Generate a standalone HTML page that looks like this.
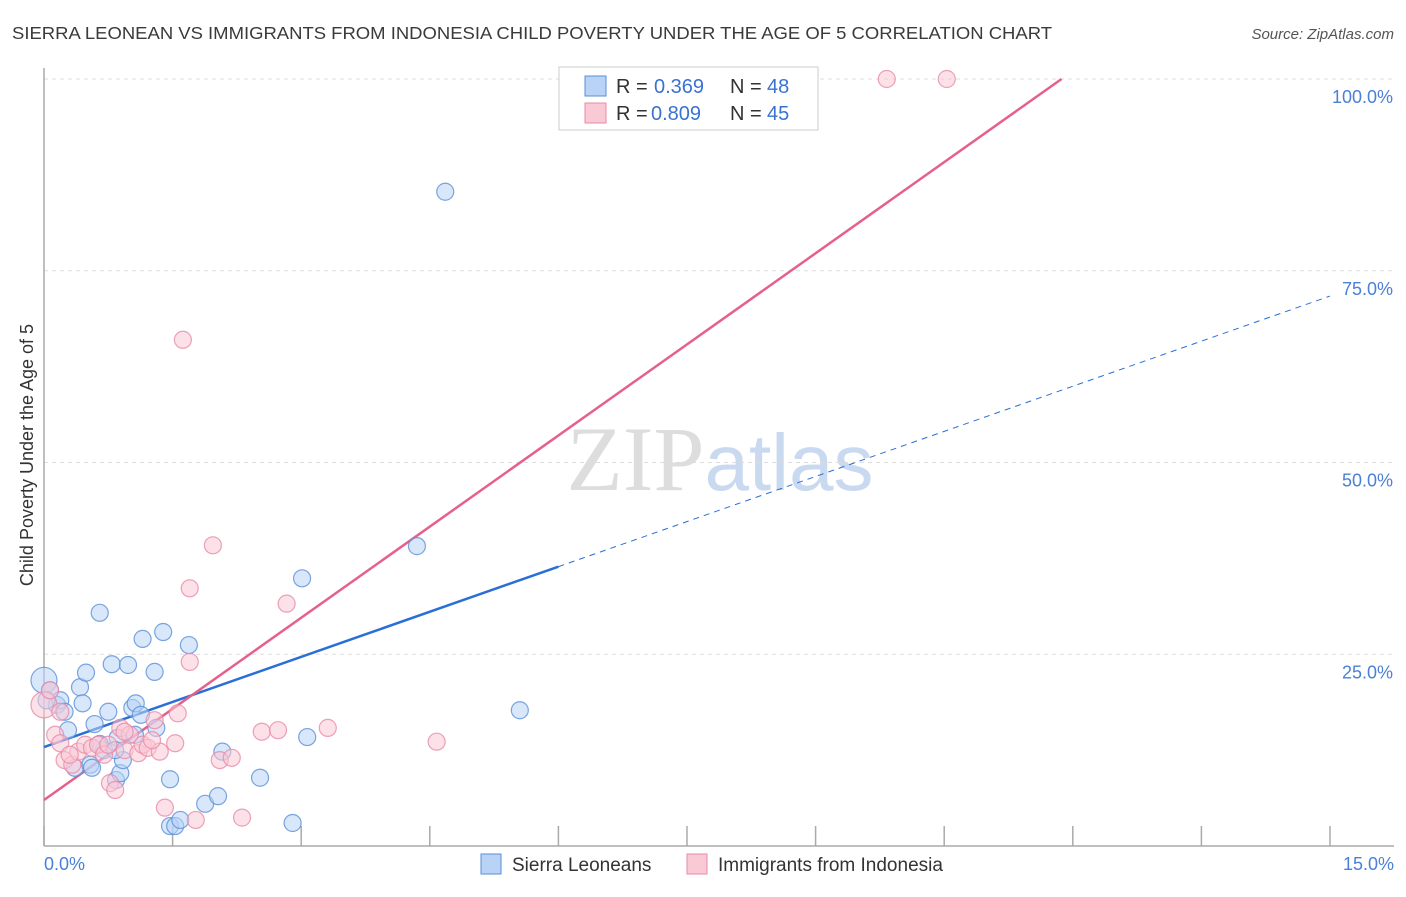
<!DOCTYPE html>
<html><head><meta charset="utf-8">
<style>
body{margin:0;background:#fff;font-family:"Liberation Sans",sans-serif;}
svg text{font-family:"Liberation Sans",sans-serif;}
</style></head>
<body>
<svg id="chart" width="1406" height="892" xmlns="http://www.w3.org/2000/svg">
<text x="12" y="39" font-size="17.5" fill="#3a3a3a" textLength="1040" lengthAdjust="spacingAndGlyphs">SIERRA LEONEAN VS IMMIGRANTS FROM INDONESIA CHILD POVERTY UNDER THE AGE OF 5 CORRELATION CHART</text>
<text x="1394" y="39" font-size="15" font-style="italic" fill="#555" text-anchor="end">Source: ZipAtlas.com</text>
<text x="720" y="490" font-size="92" text-anchor="middle"><tspan fill="#ddd" font-family="Liberation Serif">ZIP</tspan><tspan fill="#c9d9f0" font-size="80">atlas</tspan></text>
<text transform="translate(33,455) rotate(-90)" font-size="18" fill="#333" text-anchor="middle">Child Poverty Under the Age of 5</text>
<g id="grid"></g>
<g id="axes"></g>
<g id="trend"></g>
<g id="points"></g>
<g>
<rect x="559" y="67" width="259" height="63" fill="#fff" stroke="#ccc"/>
<rect x="585" y="76" width="21" height="20" fill="#b8d3f5" stroke="#5b8fd8"/>
<rect x="585" y="103" width="21" height="20" fill="#f9c9d6" stroke="#e88aa6"/>
<text x="616" y="93" font-size="20" fill="#333">R =</text>
<text x="654" y="93" font-size="20" fill="#3a72d4">0.369</text>
<text x="730" y="93" font-size="20" fill="#333">N =</text>
<text x="767" y="93" font-size="20" fill="#3a72d4">48</text>
<text x="616" y="120" font-size="20" fill="#333">R =</text>
<text x="651" y="120" font-size="20" fill="#3a72d4">0.809</text>
<text x="730" y="120" font-size="20" fill="#333">N =</text>
<text x="767" y="120" font-size="20" fill="#3a72d4">45</text>
</g>
<g>
<rect x="481" y="854" width="20" height="20" fill="#b8d3f5" stroke="#5b8fd8"/>
<text x="512" y="871" font-size="19" fill="#333">Sierra Leoneans</text>
<rect x="687" y="854" width="20" height="20" fill="#f9c9d6" stroke="#e88aa6"/>
<text x="718" y="871" font-size="19" fill="#333">Immigrants from Indonesia</text>
</g>
</svg>
<script>
const blueX=[0,.07,.15,.19,.24,.28,.36,.42,.45,.49,.54,.56,.59,.65,.70,.75,.79,.84,.86,.89,.92,.98,1.03,1.07,1.13,1.15,1.29,1.31,1.39,1.47,1.47,1.53,1.59,1.69,1.88,2.03,2.08,2.52,2.90,3.01,3.07,4.35,4.68,5.55,.65,.83,1.06,.03];
const blueY=[21.6,20.3,18.4,19.0,17.5,15.1,10.2,20.7,18.6,22.6,10.6,10.2,15.9,30.4,12.5,17.5,23.7,8.6,14.1,9.5,11.2,23.6,18.0,18.6,17.1,27.0,22.7,15.4,27.9,8.7,2.6,2.6,3.4,26.2,5.5,6.5,12.3,8.9,3.0,34.9,14.2,39.1,85.3,17.7,13.3,12.5,14.5,19.0];
const pinkX=[0,.07,.13,.19,.24,.33,.40,.48,.56,.63,.70,.77,.83,.89,.94,1.00,1.10,1.15,1.21,1.29,1.35,1.41,1.53,1.56,1.62,1.70,1.70,1.77,1.97,2.05,2.19,2.31,2.54,2.73,2.83,3.31,4.58,9.83,10.53,.19,.75,1.26,.30,.94];
const pinkY=[18.4,20.3,14.5,13.4,11.2,10.6,12.3,13.2,12.8,13.2,11.9,8.2,7.3,15.4,12.5,14.5,12.1,13.2,12.8,16.4,12.3,5.0,13.4,17.3,66.0,33.6,24.0,3.4,39.2,11.2,11.5,3.7,14.9,15.1,31.6,15.4,13.6,100,100,17.5,13.2,13.8,11.9,14.9];
const blueTrend=[12.9,3.92]; // intercept, slope
const pinkTrend=[6.0,7.92];
const yTicks=[25,50,75,100];
const xTicks=[0,1.5,3,4.5,6,7.5,9,10.5,12,13.5,15];
const X0=44,X1=1330,Y0=846,Y1=79;
const sx=v=>X0+(v/15)*(X1-X0);
const sy=v=>Y0-(v/100)*(Y0-Y1);
const NS="http://www.w3.org/2000/svg";
function mk(tag,attrs,parent){const e=document.createElementNS(NS,tag);for(const k in attrs)e.setAttribute(k,attrs[k]);parent.appendChild(e);return e;}
const grid=document.getElementById('grid'),axes=document.getElementById('axes'),trend=document.getElementById('trend'),pts=document.getElementById('points');
yTicks.forEach(t=>{
 const l=mk('line',{x1:X0,x2:1394,y1:sy(t),y2:sy(t),stroke:'#ddd','stroke-dasharray':'4,4'},grid);
 
 
 const tx=mk('text',{x:1393,y:sy(t)+24,'font-size':18,fill:'#4a80d8','text-anchor':'end'},grid);
 tx.textContent=t.toFixed(1)+'%';
 
 
});
const ax=mk('line',{x1:X0,x2:1394,y1:Y0,y2:Y0,stroke:'#aaa','stroke-width':1.5},axes);


const ay=mk('line',{x1:X0,x2:X0,y1:68,y2:Y0,stroke:'#aaa','stroke-width':1.5},axes);


xTicks.forEach(t=>{
 const l=mk('line',{x1:sx(t),x2:sx(t),y1:Y0,y2:826,stroke:'#aaa','stroke-width':1.5},axes);
 
 
});
[[0,'0.0%','start',X0],[15,'15.0%','end',1394]].forEach(d=>{
 const tx=mk('text',{x:d[3],y:870,'font-size':18,fill:'#4a80d8','text-anchor':d[2]},axes);
 tx.textContent=d[1];
 
 
});
function drawPts(xs,ys,fill,stroke,name){
 xs.forEach((x,i)=>{
  const r=(i===0)?13:8.5;
  const c=mk('circle',{cx:sx(x),cy:sy(ys[i]),r:r,fill:fill,'fill-opacity':0.55,stroke:stroke,'stroke-width':1.2,'stroke-opacity':0.8},pts);
  
  
 });
}
drawPts(blueX,blueY,'#b8d3f5','#5b8fd8','sierra-leonean-point');
drawPts(pinkX,pinkY,'#f9c9d6','#e88aa6','indonesia-point');
const bEnd=Math.max(...blueX)+0.45;
const bl=mk('line',{x1:sx(0),y1:sy(blueTrend[0]),x2:sx(bEnd),y2:sy(blueTrend[0]+blueTrend[1]*bEnd),stroke:'#2a6fd6','stroke-width':2.5},trend);


const bd=mk('line',{x1:sx(bEnd),y1:sy(blueTrend[0]+blueTrend[1]*bEnd),x2:sx(15),y2:sy(blueTrend[0]+blueTrend[1]*15),stroke:'#2a6fd6','stroke-width':1,'stroke-dasharray':'6,5'},trend);


const pEnd=(100-pinkTrend[0])/pinkTrend[1];
const pl=mk('line',{x1:sx(0),y1:sy(pinkTrend[0]),x2:sx(pEnd),y2:sy(100),stroke:'#e5608a','stroke-width':2.5},trend);


</script>
</body></html>
